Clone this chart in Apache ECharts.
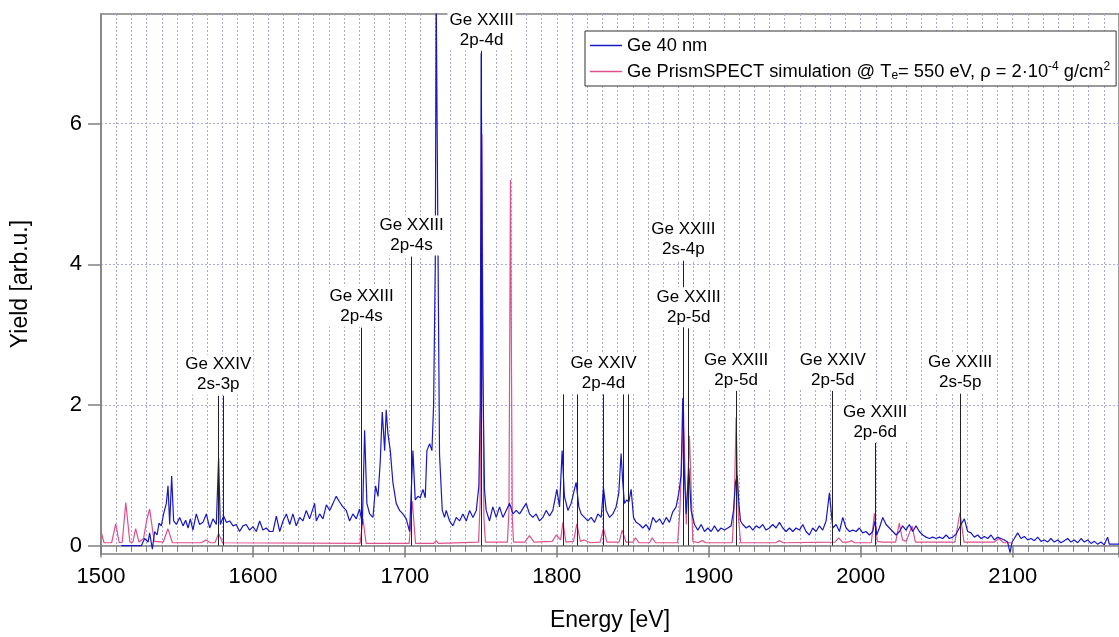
<!DOCTYPE html>
<html>
<head>
<meta charset="utf-8">
<style>
  html, body { margin: 0; padding: 0; background: #fff; }
  #main { width: 1119px; height: 637px; }
</style>
<script src="https://cdn.jsdelivr.net/npm/echarts/dist/echarts.min.js"></script>
</head>
<body>
<div id="main"></div>
<script>
// 实验谱 Ge 40 nm  [能量 eV, 强度]
var expData = [
  [1513.4,0],[1526.6,0],[1528.7,0.1],[1531,0.05],[1532,0.18],[1533.8,-0.05],[1535.3,0.2],[1536.9,0.15],
  [1538.2,0.32],[1539.7,0.28],[1541.2,0.45],[1543,0.6],[1544.1,0.85],[1545.2,0.3],[1546.5,0.99],[1547.8,0.35],
  [1549.6,0.3],[1551.8,0.4],[1554,0.28],[1555.7,0.36],[1557.3,0.25],[1558.8,0.38],[1560.5,0.22],[1562.7,0.45],
  [1564.9,0.3],[1567.1,0.33],[1569.3,0.45],[1571.5,0.25],[1573.7,0.38],[1575.9,0.3],[1577.4,1.25],[1578.5,0.3],
  [1580.7,0.42],[1582.5,0.33],[1584.7,0.35],[1586.9,0.28],[1589,0.3],[1591.2,0.2],[1593.4,0.28],[1595.6,0.3],
  [1597.8,0.22],[1600,0.27],[1602.2,0.2],[1604.4,0.35],[1606.6,0.22],[1608.8,0.25],[1611,0.2],[1613.2,0.2],
  [1615.4,0.42],[1617.6,0.2],[1619.8,0.35],[1622,0.45],[1624.2,0.3],[1626.3,0.45],[1628.5,0.28],[1630.7,0.4],
  [1632.9,0.35],[1635.1,0.5],[1637.3,0.38],[1640.6,0.6],[1641.7,0.35],[1643.9,0.45],[1646.1,0.38],[1648.3,0.58],
  [1650.5,0.5],[1652.7,0.6],[1654.8,0.7],[1657,0.62],[1659.2,0.55],[1661.4,0.5],[1663.6,0.35],[1665.8,0.45],
  [1668,0.38],[1670.2,0.52],[1672,0.3],[1673.5,1.64],[1675,0.6],[1676.8,0.45],[1679,0.4],[1680.7,0.85],
  [1682.3,0.7],[1683.8,1.2],[1685.1,1.9],[1686.7,1.35],[1687.7,1.93],[1688.8,1.6],[1690.4,1.35],[1692.1,0.9],
  [1694.3,0.6],[1696.5,0.5],[1698.7,0.45],[1700.9,0.38],[1703.1,0.2],[1705.3,1.35],[1706.8,0.65],[1708.6,0.7],
  [1710.1,0.68],[1711.9,0.8],[1713.4,0.68],[1714.5,1.35],[1716.3,1.45],[1717.8,1.35],[1718.9,2.0],[1720,4.0],
  [1720.6,7.9],[1721.7,4.5],[1722.8,1.3],[1724.6,0.5],[1726.1,0.4],[1727.2,0.5],[1729.4,0.35],[1731.6,0.28],
  [1733.8,0.4],[1736,0.35],[1738.2,0.45],[1740.4,0.35],[1742.6,0.5],[1744.8,0.4],[1747,0.5],[1748.7,0.85],
  [1749.6,2.0],[1750.2,7.0],[1751.3,2.5],[1752.4,0.8],[1753.5,0.5],[1755.7,0.35],[1757.9,0.55],[1760.1,0.4],
  [1762.3,0.55],[1764.5,0.4],[1766.7,0.5],[1768.9,0.6],[1771.1,0.45],[1773.3,0.5],[1775.5,0.45],[1779.8,0.6],
  [1782,0.45],[1784.2,0.4],[1786.4,0.45],[1788.6,0.35],[1790.8,0.4],[1793,0.5],[1795.2,0.42],[1797.4,0.5],
  [1800,0.8],[1801.8,0.55],[1803.5,1.35],[1805,0.7],[1807.3,0.5],[1809.4,0.6],[1811.6,0.8],[1812.7,0.9],
  [1814.5,0.55],[1816,0.45],[1818.2,0.4],[1820.4,0.35],[1822.6,0.4],[1824.8,0.33],[1827,0.45],[1829.2,0.4],
  [1830.7,0.82],[1832.5,0.5],[1834.7,0.4],[1836.9,0.45],[1839,0.55],[1840.8,0.75],[1842.3,1.31],[1843.4,0.9],
  [1844.5,0.6],[1846.1,0.65],[1847.4,0.62],[1848.9,0.8],[1850.5,0.4],[1852.2,0.33],[1854.4,0.3],[1856.6,0.25],
  [1858.8,0.3],[1861,0.22],[1863.2,0.4],[1865.4,0.33],[1867.6,0.38],[1869.8,0.3],[1872,0.4],[1874.1,0.33],
  [1876.3,0.48],[1878.5,0.55],[1880.3,0.75],[1881.8,1.0],[1882.9,2.1],[1884,1.0],[1885.1,0.45],[1886.9,1.1],
  [1888.4,0.5],[1890.6,0.3],[1892.8,0.22],[1895,0.3],[1897.2,0.2],[1899.4,0.25],[1901.6,0.2],[1903.8,0.28],
  [1906,0.2],[1908.1,0.25],[1910.3,0.22],[1912.5,0.25],[1914.7,0.28],[1916.3,0.5],[1917.6,0.9],[1918.7,1.0],
  [1919.8,0.6],[1920.9,0.35],[1922.4,0.3],[1924.6,0.25],[1926.8,0.28],[1929,0.22],[1931.2,0.28],[1933.4,0.25],
  [1935.5,0.3],[1937.7,0.22],[1939.9,0.25],[1942.1,0.3],[1944.3,0.25],[1946.5,0.33],[1948.7,0.25],[1950.9,0.2],
  [1953.1,0.25],[1955.3,0.2],[1957.5,0.25],[1959.7,0.22],[1961.9,0.3],[1964,0.2],[1966.2,0.15],[1968.4,0.25],
  [1970.6,0.2],[1972.8,0.28],[1975,0.22],[1977.2,0.35],[1979.4,0.75],[1980.5,0.5],[1981.6,0.25],[1983.8,0.3],
  [1986,0.2],[1988.2,0.4],[1990.4,0.25],[1992.6,0.2],[1994.8,0.22],[1997,0.2],[1999.1,0.25],[2001.3,0.18],
  [2003.5,0.2],[2005.7,0.15],[2007.9,0.2],[2009.4,0.35],[2010.5,0.15],[2012.3,0.25],[2014.5,0.4],[2016.7,0.3],
  [2018.9,0.25],[2021.1,0.2],[2023.3,0.15],[2025.5,0.2],[2027.6,0.28],[2029.8,0.22],[2032,0.3],[2034.2,0.2],
  [2036.4,0.28],[2038.6,0.2],[2040.8,0.15],[2043,0.12],[2045.2,0.1],[2047.4,0.12],[2049.6,0.1],[2051.8,0.12],
  [2054,0.1],[2056.2,0.15],[2058.4,0.1],[2060.5,0.12],[2062.7,0.16],[2064.9,0.25],[2066,0.3],[2068.2,0.38],
  [2070.4,0.2],[2072.6,0.18],[2074.8,0.12],[2077,0.15],[2079.2,0.1],[2081.4,0.13],[2083.6,0.1],[2085.8,0.15],
  [2088,0.08],[2090.1,0.12],[2092.3,0.1],[2094.5,0.08],[2096.7,0.05],[2098.3,-0.1],[2099.6,0.05],[2101.1,0.1],
  [2103.3,0.18],[2105.5,0.1],[2107.7,0.13],[2109.9,0.08],[2112.1,0.1],[2114.3,0.07],[2116.5,0.12],[2118.7,0.06],
  [2120.9,0.08],[2123,0.05],[2125.2,0.1],[2127.4,0.05],[2129.6,0.08],[2131.8,0.04],[2134,0.07],[2136.2,0.1],
  [2138.4,0.05],[2140.6,0.08],[2142.8,0.04],[2145,0.1],[2147.2,0.05],[2149.4,0.08],[2151.6,0.03],[2153.8,0.06],
  [2155.9,0.02],[2158.1,0.05],[2160.3,0.01],[2162.5,0.12],[2163.6,0.02],[2165.8,0.02],[2170,0.02]
];

// PrismSPECT 模拟谱
var simData = [
  [1500,0.2],[1502,0.04],[1507,0.04],[1509.7,0.31],[1512,0.04],[1514,0.05],[1516.3,0.61],[1519,0.05],
  [1521,0.05],[1522.8,0.24],[1525,0.05],[1528,0.1],[1530,0.35],[1532,0.52],[1535,0.06],[1541,0.05],
  [1544,0.24],[1547,0.04],[1566,0.04],[1569,0.08],[1572,0.04],[1575,0.04],[1577.4,0.17],[1580,0.04],
  [1670.5,0.03],[1672.4,0.38],[1674.5,0.03],[1702.8,0.03],[1704.9,0.63],[1707,0.03],[1719,0.03],[1720.6,0.07],
  [1722,0.03],[1748.5,0.05],[1749.5,0.6],[1750.7,5.85],[1752,0.4],[1753,0.05],[1767.5,0.05],[1768.5,0.5],
  [1769.5,5.2],[1770.7,0.4],[1771.5,0.05],[1779,0.05],[1782,0.14],[1785,0.05],[1797,0.06],[1799.6,0.15],
  [1802.5,0.08],[1804,0.33],[1806,0.05],[1811,0.06],[1813.2,0.31],[1815.5,0.06],[1818,0.08],[1822,0.04],
  [1828.5,0.05],[1830.7,0.24],[1833,0.05],[1841,0.05],[1843,0.22],[1845.5,0.05],[1850,0.05],[1851.8,0.11],
  [1854,0.04],[1861,0.04],[1862.8,0.11],[1865,0.04],[1879.5,0.04],[1881,0.5],[1883.4,1.91],[1885.2,0.3],
  [1887.3,1.56],[1889.5,0.06],[1893,0.04],[1895.6,0.07],[1898,0.04],[1915.5,0.04],[1916.8,0.6],[1918,1.82],
  [1919.5,0.4],[1921,0.04],[1944,0.04],[1946.5,0.07],[1949,0.04],[1983,0.05],[1985.5,0.11],[1988,0.05],
  [1992,0.05],[1994,0.07],[1996,0.04],[2007,0.04],[2009,0.46],[2011,0.06],[2014,0.05],[2023,0.05],
  [2025.4,0.32],[2027.5,0.08],[2030,0.06],[2033.8,0.28],[2036,0.05],[2062,0.05],[2065.3,0.47],[2068,0.05],
  [2088,0.05],[2091,0.1],[2094,0.04],[2099,0.04]
];

// 谱线标注：能量、竖线顶端、文字
var lineEnergy = [1577.2, 1580.3, 1671.5, 1704.4, 1750.5, 1804, 1813.2, 1830.7, 1843.4, 1847, 1883.3, 1886.8, 1918, 1981.6, 2009.5, 2065.5];
var lineTop    = [2.13, 2.13, 3.1, 4.11, 7.03, 2.15, 2.15, 2.15, 2.15, 2.15, 4.05, 3.09, 2.2, 2.2, 1.46, 2.16];
var lineLabel  = ['Ge XXIV\n2s-3p', '', 'Ge XXIII\n2p-4s', 'Ge XXIII\n2p-4s', 'Ge XXIII\n2p-4d', '', '', 'Ge XXIV\n2p-4d', '', '',
                  'Ge XXIII\n2s-4p', 'Ge XXIII\n2p-5d', 'Ge XXIII\n2p-5d', 'Ge XXIV\n2p-5d', 'Ge XXIII\n2p-6d', 'Ge XXIII\n2s-5p'];

var yTicks = [0, 2, 4, 6];

var expName = 'Ge 40 nm';
var simName = 'Ge PrismSPECT simulation';

var markData = lineEnergy.map(function (e, i) {
  return [
    {
      coord: [e, 0],
      name: lineLabel[i],
      label: { show: lineLabel[i] !== '' }
    },
    { coord: [e, lineTop[i]] }
  ];
});

var gridColor = '#aaaae8';
var axisColor = '#808080';

var myChart = echarts.init(document.getElementById('main'));
var option = {
  animation: false,
  textStyle: { fontFamily: 'Liberation Sans, Arial, sans-serif' },
  grid: {
    left: 101,
    right: -3,
    top: 14,
    bottom: 80,
    show: true,
    borderColor: axisColor,
    borderWidth: 1.5
  },
  legend: {
    data: [expName, simName],
    orient: 'vertical',
    left: 585,
    top: 31,
    padding: [4, 6, 4, 5],
    itemGap: 5,
    itemWidth: 32,
    itemHeight: 1.5,
    icon: 'rect',
    backgroundColor: '#fff',
    borderColor: '#333',
    borderWidth: 1,
    textStyle: {
      color: '#000',
      fontSize: 18.3,
      lineHeight: 21,
      rich: {
        sub: { fontSize: 12, verticalAlign: 'bottom', lineHeight: 21 },
        sup: { fontSize: 12, verticalAlign: 'top', lineHeight: 21 }
      }
    },
    formatter: function (name) {
      if (name === simName) {
        return 'Ge PrismSPECT simulation @ T{sub|e}= 550 eV, \u03c1 = 2\u00b710{sup|-4} g/cm{sup|2}';
      }
      return name;
    }
  },
  xAxis: {
    type: 'value',
    min: 1500,
    max: 2170,
    interval: 100,
    name: 'Energy [eV]',
    nameLocation: 'middle',
    nameGap: 55,
    nameTextStyle: { color: '#000', fontSize: 23 },
    axisLine: { lineStyle: { color: axisColor, width: 1.5 } },
    axisTick: { inside: false, length: 12, lineStyle: { color: axisColor, width: 1.5 } },
    minorTick: { show: true, splitNumber: 10, length: 6, lineStyle: { color: axisColor, width: 1 } },
    axisLabel: {
      color: '#000',
      fontSize: 22,
      margin: 12,
      showMaxLabel: false,
      formatter: function (v) { return String(v); }
    },
    splitLine: { show: true, lineStyle: { color: gridColor, type: [2, 2], width: 1 } },
    minorSplitLine: { show: true, lineStyle: { color: gridColor, type: [2, 2], width: 1 } }
  },
  yAxis: {
    type: 'value',
    min: -0.12,
    max: 7.56,
    name: 'Yield [arb.u.]',
    nameLocation: 'middle',
    nameGap: 69,
    nameTextStyle: { color: '#000', fontSize: 23 },
    axisLine: { show: true, lineStyle: { color: axisColor, width: 1.5 } },
    axisTick: { show: true, length: 13, customValues: yTicks, lineStyle: { color: axisColor, width: 1.5 } },
    axisLabel: { color: '#000', fontSize: 22, margin: 19, customValues: yTicks },
    splitLine: { show: true, lineStyle: { color: gridColor, type: [2, 2], width: 1 } }
  },
  series: [
    {
      name: simName,
      type: 'line',
      data: simData,
      showSymbol: false,
      color: '#e0508c',
      lineStyle: { width: 1.2 },
      z: 3
    },
    {
      name: expName,
      type: 'line',
      data: expData,
      showSymbol: false,
      color: '#1818c8',
      lineStyle: { width: 1.2 },
      z: 4
    },
    {
      // 标注线
      type: 'line',
      data: [],
      z: 10,
      markLine: {
        silent: true,
        symbol: ['none', 'none'],
        animation: false,
        lineStyle: { color: '#222', width: 1, type: 'solid' },
        label: {
          position: 'end',
          formatter: '{b}',
          color: '#000',
          fontSize: 17,
          lineHeight: 20,
          align: 'center',
          backgroundColor: '#fff',
          padding: [0, 2, 0, 2],
          distance: 1
        },
        emphasis: { disabled: true },
        data: markData
      }
    }
  ]
};
myChart.setOption(option);
window.addEventListener('resize', function () {
  myChart.resize();
});
</script>
</body>
</html>
